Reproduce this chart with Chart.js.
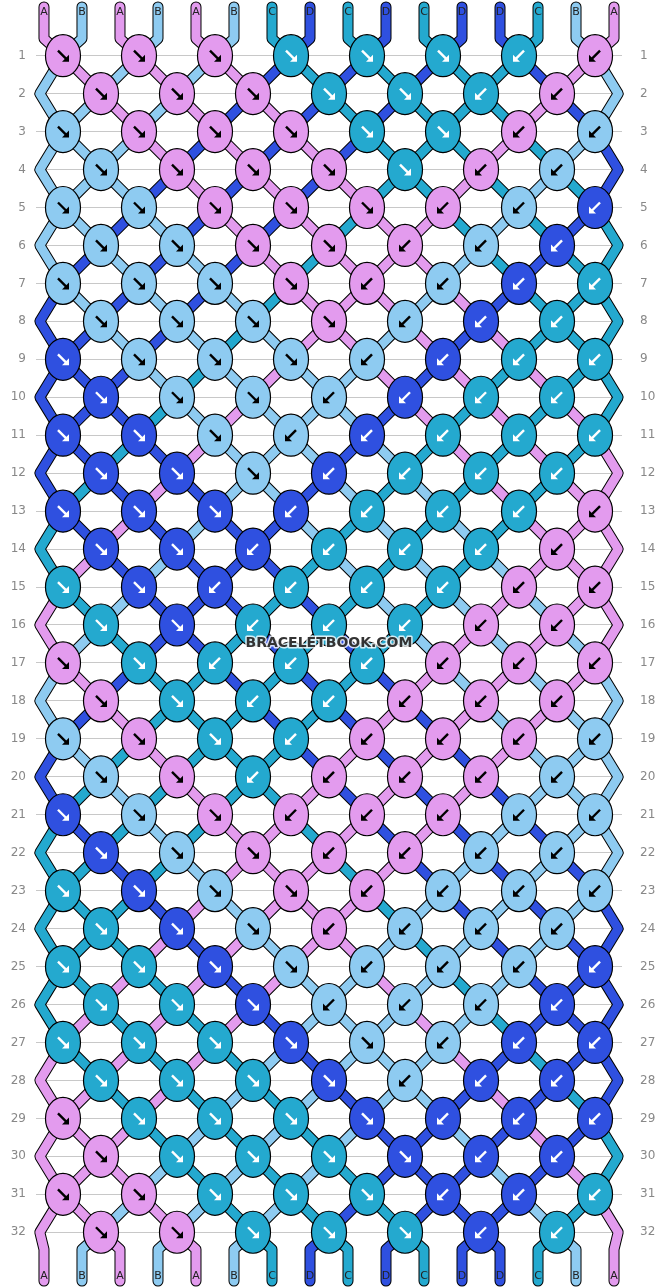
<!doctype html>
<html lang="en">
<head>
  <meta charset="utf-8" />
  <title>Bracelet pattern</title>
  <script src="https://cdn.jsdelivr.net/npm/chart.js"></script>
  <style>
    html, body { margin: 0; padding: 0; background: #fff; }
    #wrap { width: 658px; height: 1288px; position: relative; }
  </style>
</head>
<body>
<div id="wrap"><canvas id="pattern"></canvas></div>
<script>
  // strings at the top, left to right
  const strings = ['A', 'B', 'A', 'B', 'A', 'B', 'C', 'D', 'C', 'D', 'C', 'D', 'D', 'C', 'B', 'A'];
  const colors = { A: '#e39bee', B: '#8ecbf1', C: '#24a9cf', D: '#2f50e0' };
  const rowLabels = Array.from({ length: 32 }, (_, i) => i + 1);

  // knot colours per row (odd rows 8 knots, even rows 7)
  const knotColors = [
    'AAACCCCA', 'AAACCCA', 'BAAACCAB', 'BAAACAB', 'BBAAAABD', 'BBAAABD', 'BBBAABDC', 'BBBABDC',
    'DBBBBDCC', 'DBBBDCC', 'DDBBDCCC', 'DDBDCCC', 'DDDDCCCA', 'DDDCCCA', 'CDDCCCAA', 'CDCCCAA',
    'ACCCCAAA', 'ACCCAAA', 'BACCAAAB', 'BACAAAB', 'DBAAAABB', 'DBAAABB', 'CDBAABBB', 'CDBABBB',
    'CCDBBBBD', 'CCDBBBD', 'CCCDBBDD', 'CCCDBDD', 'ACCCDDDD', 'ACCCDDD', 'AACCCDDC', 'AACCCDC'
  ];
  // knot directions: R = forward (↘), L = backward (↙)
  const knotDirs = [
    'RRRRRRLL', 'RRRRRLL', 'RRRRRRLL', 'RRRRRLL', 'RRRRRLLL', 'RRRRLLL', 'RRRRLLLL', 'RRRRLLL',
    'RRRRLLLL', 'RRRLLLL', 'RRRLLLLL', 'RRRLLLL', 'RRRLLLLL', 'RRLLLLL', 'RRLLLLLL', 'RRLLLLL',
    'RRLLLLLL', 'RRLLLLL', 'RRRLLLLL', 'RRLLLLL', 'RRRLLLLL', 'RRRLLLL', 'RRRRLLLL', 'RRRLLLL',
    'RRRRLLLL', 'RRRLLLL', 'RRRRRLLL', 'RRRRLLL', 'RRRRRLLL', 'RRRRRLL', 'RRRRRLLL', 'RRRRRLL'
  ];

  // knot points: x = between the two strings, y = row
  const knots = [];
  knotDirs.forEach((dirs, r) => {
    const first = r % 2 === 0 ? 0 : 1;
    for (let k = 0; k < dirs.length; k++) {
      knots.push({ x: first + 2 * k + 0.5, y: r + 1, c: knotColors[r][k], d: dirs[k] });
    }
  });

  // follow every thread through the knots to get its path
  function threadPaths() {
    let order = strings.map((s, i) => ({ c: s, start: i, pts: [] }));
    knotDirs.forEach((dirs, r) => {
      const first = r % 2 === 0 ? 0 : 1;
      order.forEach((t, p) => {
        const inKnot = p >= first && p < first + 2 * dirs.length;
        if (inKnot) t.pts.push({ x: first + 2 * Math.floor((p - first) / 2) + 0.5, y: r + 1 });
        else t.pts.push({ x: p === 0 ? -0.11 : 15.11, y: r + 1 });
      });
      for (let k = 0; k < dirs.length; k++) {
        const a = first + 2 * k;
        const tmp = order[a]; order[a] = order[a + 1]; order[a + 1] = tmp;
      }
    });
    order.forEach((t, p) => { t.end = p; });
    return order;
  }

  const knotPlugin = {
    id: 'knots',
    beforeDatasetsDraw(chart) {
      const ctx = chart.ctx, xs = chart.scales.x, ys = chart.scales.y;
      const px = v => xs.getPixelForValue(v), py = v => ys.getPixelForValue(v);
      ctx.save();
      ctx.lineJoin = 'round';
      threadPaths().forEach(t => {
        const pts = [[px(t.start), 7], [px(t.start), py(0.55)]];
        t.pts.forEach(p => pts.push([px(p.x), py(p.y)]));
        pts.push([px(t.end), py(32.45)], [px(t.end), 1281]);
        for (const [w, col] of [[11, '#000'], [9, colors[t.c]]]) {
          ctx.beginPath();
          pts.forEach((p, i) => i ? ctx.lineTo(p[0], p[1]) : ctx.moveTo(p[0], p[1]));
          ctx.lineWidth = w; ctx.strokeStyle = col; ctx.lineCap = 'round';
          ctx.stroke();
        }
        ctx.fillStyle = '#222';
        ctx.font = '11px "DejaVu Sans"';
        ctx.textAlign = 'center'; ctx.textBaseline = 'middle';
        ctx.fillText(t.c, px(t.start), 12);
        ctx.fillText(t.c, px(t.end), 1276);
      });
      knots.forEach(k => {
        const x = px(k.x), y = py(k.y);
        ctx.beginPath();
        ctx.ellipse(x, y, 17.5, 21, 0, 0, Math.PI * 2);
        ctx.fillStyle = colors[k.c]; ctx.fill();
        ctx.lineWidth = 1.2; ctx.strokeStyle = '#000'; ctx.stroke();
        const ink = (k.c === 'C' || k.c === 'D') ? '#fff' : '#000';
        const s = k.d === 'R' ? 1 : -1;
        ctx.strokeStyle = ink; ctx.fillStyle = ink; ctx.lineWidth = 2.4; ctx.lineCap = 'butt';
        ctx.beginPath();
        ctx.moveTo(x - 5 * s, y - 5); ctx.lineTo(x + 4 * s, y + 4); ctx.stroke();
        ctx.beginPath();
        ctx.moveTo(x + 6 * s, y + 6); ctx.lineTo(x + 6 * s, y - 1); ctx.lineTo(x - 1 * s, y + 6);
        ctx.closePath(); ctx.fill();
      });
      // watermark
      ctx.font = 'bold 14px "DejaVu Sans"';
      ctx.textAlign = 'center'; ctx.textBaseline = 'middle';
      ctx.lineWidth = 3; ctx.strokeStyle = 'rgba(255,255,255,0.8)';
      ctx.strokeText('BRACELETBOOK.COM', 329, 643);
      ctx.fillStyle = '#333';
      ctx.fillText('BRACELETBOOK.COM', 329, 643);
      ctx.restore();
    }
  };

  const rowTicks = scale => { scale.ticks = rowLabels.map(v => ({ value: v })); };
  const fixW = scale => { scale.width = 36; };

  new Chart(document.getElementById('pattern'), {
    type: 'scatter',
    data: { datasets: [{ data: knots, pointRadius: 0 }] },
    options: {
      responsive: true, maintainAspectRatio: false, animation: false,
      layout: { padding: 0 },
      plugins: { legend: { display: false }, tooltip: { enabled: false } },
      scales: {
        x: { type: 'linear', min: -0.21, max: 15.21, display: false },
        y: {
          type: 'linear', position: 'left', reverse: true, min: -0.014, max: 33.016,
          afterBuildTicks: rowTicks, afterFit: fixW,
          border: { display: false },
          grid: { color: '#c8c8c8', lineWidth: 1, drawTicks: false },
          ticks: { color: '#888', font: { size: 12, family: 'DejaVu Sans' }, padding: 10 }
        },
        y2: {
          type: 'linear', position: 'right', reverse: true, min: -0.014, max: 33.016,
          afterBuildTicks: rowTicks, afterFit: fixW,
          border: { display: false },
          grid: { display: false },
          ticks: { color: '#888', font: { size: 12, family: 'DejaVu Sans' }, padding: 10 }
        }
      }
    },
    plugins: [knotPlugin]
  });
</script>
</body>
</html>
